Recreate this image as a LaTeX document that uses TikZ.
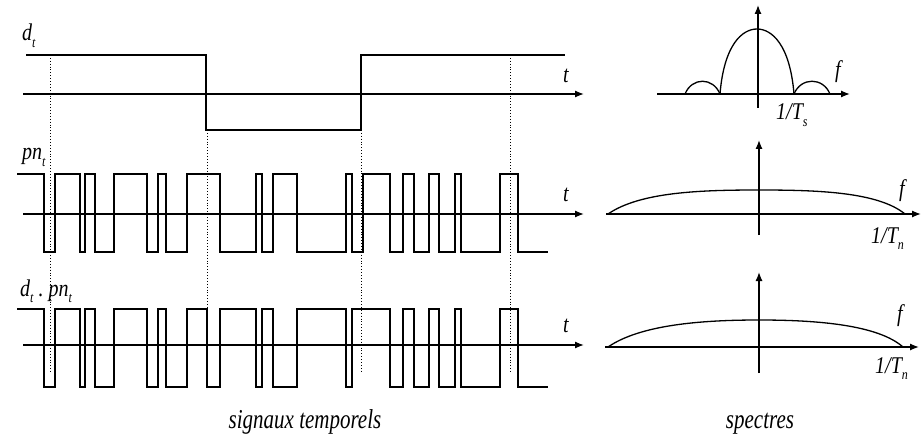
\documentclass[tikz,border=0pt]{standalone}
\usepackage{fontspec}
\usepackage{graphicx}
\setmainfont{Liberation Serif}
\usetikzlibrary{arrows.meta}
\newcommand{\sbs}[1]{\raisebox{-0.28em}{\fontsize{12}{13}\selectfont #1}}
\newcommand{\tl}[1]{\scalebox{1}[1.2]{\fontsize{20}{22}\selectfont\itshape #1}}
\newcommand{\tc}[1]{\scalebox{1}[1.3]{\fontsize{21}{23}\selectfont\itshape #1}}
\begin{document}
\begin{tikzpicture}[x=1pt,y=-1pt,
  sig/.style={line width=1.4pt,line join=miter},
  ax/.style={line width=1.3pt,-{Latex[length=9pt,width=7pt]}},
  vax/.style={line width=1.3pt,-{Latex[length=9pt,width=7pt]}},
  dots/.style={dotted,line width=0.9pt},
  spec/.style={line width=1.3pt},
  lbl/.style={inner sep=0pt},
  captxt/.style={inner sep=0pt}]
\useasboundingbox (0,0) rectangle (921,441);
% dotted guides
\draw[dots] (50,55) -- (50,373);
\draw[dots] (207,130) -- (207,310);
\draw[dots] (361,130) -- (361,373);
\draw[dots] (510,55) -- (510,373);
% --- d_t
\coordinate (a1s) at (23,94); \coordinate (a1e) at (584,94);
\draw[ax] (a1s) -- (a1e);
\draw[sig] (26,55) -- (206,55) -- (206,130) -- (361,130) -- (361,55) -- (565,55);
\node[lbl,anchor=base west] (ld) at (22,41) {\tl{d\sbs{t}}};
\node[lbl,anchor=base] (t1) at (566,83) {\tl{t}};
% --- pn_t
\coordinate (a2s) at (23,214); \coordinate (a2e) at (584,214);
\draw[ax] (a2s) -- (a2e);
\def\H{174}\def\L{252}
\draw[sig] (17,\H) -- (44,\H) -- (44,\L) -- (55,\L) -- (55,\H) -- (80,\H) -- (80,\L) -- (85,\L) -- (85,\H)
 -- (95,\H) -- (95,\L) -- (114,\L) -- (114,\H) -- (147,\H) -- (147,\L) -- (158,\L) -- (158,\H) -- (166,\H)
 -- (166,\L) -- (187,\L) -- (187,\H) -- (220,\H) -- (220,\L) -- (256,\L) -- (256,\H) -- (262,\H) -- (262,\L)
 -- (273,\L) -- (273,\H) -- (297,\H) -- (297,\L) -- (346,\L) -- (346,\H) -- (352,\H) -- (352,\L) -- (363,\L)
 -- (363,\H) -- (390,\H) -- (390,\L) -- (403,\L) -- (403,\H) -- (414,\H) -- (414,\L) -- (429,\L) -- (429,\H)
 -- (439,\H) -- (439,\L) -- (455,\L) -- (455,\H) -- (461,\H) -- (461,\L) -- (500,\L) -- (500,\H) -- (518,\H)
 -- (518,\L) -- (548,\L);
\node[lbl,anchor=base west] (lp) at (22,160) {\tl{pn\sbs{t}}};
\node[lbl,anchor=base] (t2) at (566,201) {\tl{t}};
% --- d_t . pn_t
\coordinate (a3s) at (23,345); \coordinate (a3e) at (584,345);
\draw[ax] (a3s) -- (a3e);
\def\H{309}\def\L{387}
\draw[sig] (17,\H) -- (44,\H) -- (44,\L) -- (55,\L) -- (55,\H) -- (80,\H) -- (80,\L) -- (85,\L) -- (85,\H)
 -- (95,\H) -- (95,\L) -- (114,\L) -- (114,\H) -- (147,\H) -- (147,\L) -- (158,\L) -- (158,\H) -- (166,\H)
 -- (166,\L) -- (187,\L) -- (187,\H) -- (207,\H) -- (207,\L) -- (220,\L) -- (220,\H) -- (256,\H) -- (256,\L)
 -- (262,\L) -- (262,\H) -- (273,\H) -- (273,\L) -- (297,\L) -- (297,\H) -- (346,\H) -- (346,\L) -- (352,\L)
 -- (352,\H) -- (390,\H) -- (390,\L) -- (403,\L) -- (403,\H) -- (414,\H) -- (414,\L) -- (429,\L) -- (429,\H)
 -- (439,\H) -- (439,\L) -- (455,\L) -- (455,\H) -- (461,\H) -- (461,\L) -- (500,\L) -- (500,\H) -- (518,\H)
 -- (518,\L) -- (548,\L);
\node[lbl,anchor=base west] (lq) at (20,296) {\tl{d\sbs{t}\ .\ pn\sbs{t}}};
\node[lbl,anchor=base] (t3) at (566,332) {\tl{t}};
% --- spectrum 1
\coordinate (s1a) at (657,94); \coordinate (s1b) at (850,94);
\coordinate (s1c) at (758,108); \coordinate (s1d) at (758,5);
\draw[ax] (s1a) -- (s1b);
\draw[vax] (s1c) -- (s1d);
\draw[spec] (720,94) .. controls (724,45) and (742,29) .. (757,29) .. controls (772,29) and (790,45) .. (794,94);
\draw[spec] (685,94) .. controls (692,77) and (713,77) .. (720,94);
\draw[spec] (794,94) .. controls (801,77) and (823,77) .. (830,94);
\node[lbl,anchor=base] (f1) at (838,78) {\tl{f}};
\node[lbl,anchor=base west] (n1) at (776,120) {\tl{1/T\sbs{s}}};
% --- spectrum 2
\coordinate (s2a) at (606,214); \coordinate (s2b) at (921,214);
\coordinate (s2c) at (759,235); \coordinate (s2d) at (759,140);
\draw[ax] (s2a) -- (s2b);
\draw[vax] (s2c) -- (s2d);
\draw[spec] (608,214) .. controls (640,192) and (700,190) .. (759,190) .. controls (818,190) and (878,192) .. (905,214);
\node[lbl,anchor=base] (f2) at (902,196) {\tl{f}};
\node[lbl,anchor=base west] (n2) at (871,243) {\tl{1/T\sbs{n}}};
% --- spectrum 3
\coordinate (s3a) at (605,347); \coordinate (s3b) at (919,347);
\coordinate (s3c) at (759,373); \coordinate (s3d) at (759,272);
\draw[ax] (s3a) -- (s3b);
\draw[vax] (s3c) -- (s3d);
\draw[spec] (608,347) .. controls (640,325) and (700,320) .. (759,320) .. controls (818,320) and (878,325) .. (903,347);
\node[lbl,anchor=base] (f3) at (900,321) {\tl{f}};
\node[lbl,anchor=base west] (n3) at (875,373) {\tl{1/T\sbs{n}}};
% captions
\node[captxt,anchor=base] (c1) at (305,428) {\tc{signaux temporels}};
\node[captxt,anchor=base] (c2) at (760,428) {\tc{spectres}};
\end{tikzpicture}
\end{document}
